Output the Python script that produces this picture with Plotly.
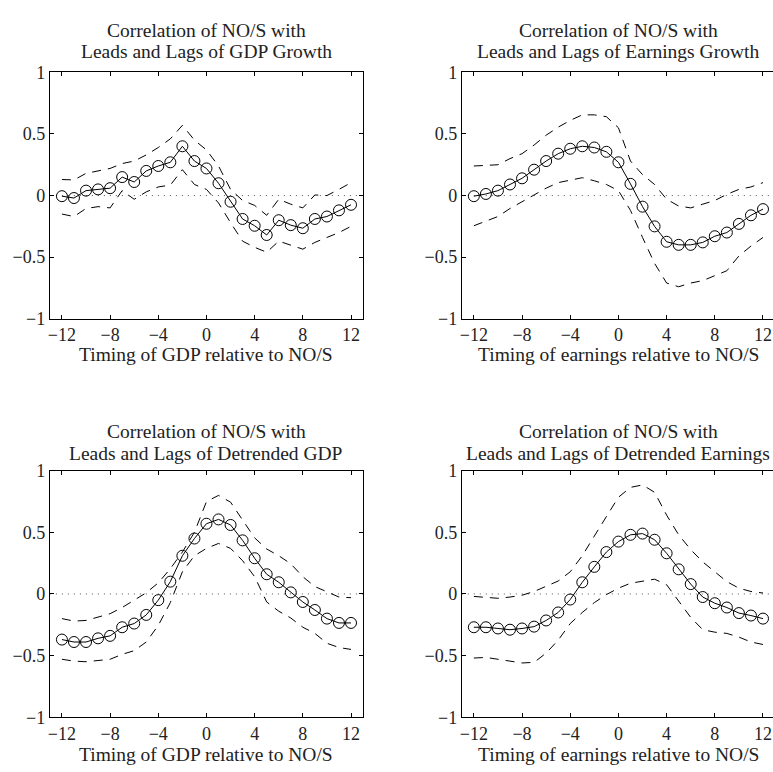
import plotly.graph_objects as go

W, H = 773, 772

lags = list(range(-12, 13))

# Panel 1: GDP growth
gdp_growth = [-0.005, -0.02, 0.04, 0.05, 0.06, 0.15, 0.11, 0.20, 0.24, 0.27, 0.40, 0.28, 0.22,
              0.10, -0.05, -0.19, -0.245, -0.32, -0.20, -0.24, -0.265, -0.19, -0.17, -0.12, -0.075]
gdp_growth_hi = [0.13, 0.127, 0.18, 0.20, 0.22, 0.26, 0.28, 0.33, 0.39, 0.46, 0.57, 0.45, 0.37,
                 0.24, 0.05, -0.04, -0.08, -0.16, -0.03, -0.07, -0.10, 0.005, 0.0, 0.05, 0.105]
gdp_growth_lo = [-0.15, -0.17, -0.105, -0.09, -0.10, 0.04, -0.03, 0.03, 0.07, 0.085, 0.21, 0.09, 0.05,
                 -0.06, -0.22, -0.37, -0.42, -0.46, -0.37, -0.40, -0.435, -0.38, -0.34, -0.30, -0.25]

# Panel 2: Earnings growth
earn_growth = [-0.005, 0.013, 0.04, 0.09, 0.14, 0.21, 0.28, 0.34, 0.38, 0.40, 0.39, 0.355, 0.27,
               0.095, -0.09, -0.25, -0.375, -0.40, -0.40, -0.38, -0.33, -0.30, -0.23, -0.16, -0.11]
earn_growth_hi = [0.24, 0.243, 0.25, 0.30, 0.34, 0.41, 0.49, 0.555, 0.61, 0.655, 0.655, 0.64, 0.55,
                  0.28, 0.17, 0.09, -0.03, -0.085, -0.10, -0.07, -0.04, 0.01, 0.05, 0.07, 0.105]
earn_growth_lo = [-0.245, -0.21, -0.17, -0.105, -0.05, 0.005, 0.06, 0.105, 0.125, 0.145, 0.12, 0.09, 0.04,
                  -0.12, -0.34, -0.55, -0.71, -0.74, -0.71, -0.69, -0.65, -0.61, -0.49, -0.41, -0.34]

# Panel 3: Detrended GDP
gdp_detr = [-0.37, -0.39, -0.39, -0.36, -0.34, -0.27, -0.24, -0.17, -0.05, 0.10, 0.31, 0.45, 0.57,
            0.605, 0.56, 0.435, 0.29, 0.16, 0.095, 0.013, -0.065, -0.13, -0.20, -0.235, -0.235]
gdp_detr_hi = [-0.20, -0.22, -0.215, -0.19, -0.16, -0.11, -0.05, 0.01, 0.09, 0.205, 0.34, 0.50, 0.75,
               0.80, 0.745, 0.60, 0.455, 0.365, 0.31, 0.245, 0.14, 0.06, 0.015, -0.025, -0.03]
gdp_detr_lo = [-0.53, -0.545, -0.55, -0.54, -0.53, -0.49, -0.46, -0.39, -0.255, -0.07, 0.18, 0.31, 0.37,
               0.41, 0.37, 0.27, 0.14, -0.065, -0.14, -0.195, -0.27, -0.32, -0.40, -0.435, -0.45]

# Panel 4: Detrended earnings
earn_detr = [-0.27, -0.27, -0.28, -0.29, -0.28, -0.265, -0.215, -0.15, -0.045, 0.095, 0.22, 0.34, 0.425,
             0.48, 0.49, 0.44, 0.33, 0.20, 0.08, -0.025, -0.075, -0.11, -0.155, -0.175, -0.20]
earn_detr_hi = [-0.02, -0.03, -0.035, -0.025, -0.01, 0.02, 0.06, 0.105, 0.18, 0.31, 0.47, 0.63, 0.785,
                0.865, 0.885, 0.825, 0.64, 0.48, 0.36, 0.26, 0.18, 0.10, 0.047, 0.02, 0.008]
earn_detr_lo = [-0.52, -0.515, -0.53, -0.545, -0.56, -0.555, -0.48, -0.375, -0.24, -0.15, -0.07, -0.005, 0.047,
                0.087, 0.105, 0.12, 0.075, -0.06, -0.19, -0.29, -0.31, -0.32, -0.35, -0.39, -0.41]

titles = [
    ("Correlation of NO/S with", "Leads and Lags of GDP Growth"),
    ("Correlation of NO/S with", "Leads and Lags of Earnings Growth"),
    ("Correlation of NO/S with", "Leads and Lags of Detrended GDP"),
    ("Correlation of NO/S with", "Leads and Lags of Detrended Earnings"),
]
xlabels = [
    "Timing of GDP relative to NO/S",
    "Timing of earnings relative to NO/S",
    "Timing of GDP relative to NO/S",
    "Timing of earnings relative to NO/S",
]
xtick_vals = [-12, -8, -4, 0, 4, 8, 12]
ytick_vals = [-1, -0.5, 0, 0.5, 1]
ytick_text = ["\u22121", "\u22120.5", "0", "0.5", "1"]

panels = [
    (gdp_growth, gdp_growth_hi, gdp_growth_lo),
    (earn_growth, earn_growth_hi, earn_growth_lo),
    (gdp_detr, gdp_detr_hi, gdp_detr_lo),
    (earn_detr, earn_detr_hi, earn_detr_lo),
]

# pixel layout of the axes boxes (left, right, top, bottom)
boxes = [(48, 362, 64, 317), (461, 773, 64, 317), (48, 362, 473, 726), (461, 773, 473, 726)]
xranges = [[-13, 13], [-13, 12.83], [-13, 13], [-13, 12.83]]
title_y = [(21.5, 43), (21.5, 43), (433, 455), (433, 455)]
xlabel_y = [354, 354, 764, 764]

FONT = "Liberation Serif, Times New Roman, serif"
TXT = "#222"

fig = go.Figure()
layout = dict(
    width=W, height=H,
    margin=dict(l=0, r=0, t=0, b=0),
    paper_bgcolor="white", plot_bgcolor="white",
    showlegend=False,
    font=dict(family=FONT, size=18, color=TXT),
)
annotations = []
shapes = []

for i, (mid, hi, lo) in enumerate(panels):
    n = "" if i == 0 else str(i + 1)
    xa, ya = "x" + n, "y" + n
    l, r, t, b = boxes[i]
    layout["xaxis" + n] = dict(
        domain=[l / W, r / W], range=xranges[i], anchor=ya,
        tickmode="array", tickvals=xtick_vals, ticks="inside", ticklen=4,
        tickcolor="black", showline=True, linecolor="black", linewidth=1,
        mirror="ticks", showgrid=False, zeroline=False,
        tickfont=dict(family=FONT, size=18, color=TXT),
    )
    layout["yaxis" + n] = dict(
        domain=[1 - b / H, 1 - t / H], range=[-1, 1], anchor=xa,
        tickmode="array", tickvals=ytick_vals, ticktext=ytick_text,
        ticks="inside", ticklen=4, tickcolor="black",
        showline=True, linecolor="black", linewidth=1,
        mirror="ticks" if i in (0, 2) else False,
        showgrid=False, zeroline=False,
        tickfont=dict(family=FONT, size=18, color=TXT),
    )
    # dotted zero line
    shapes.append(dict(type="line", xref=xa + " domain", yref=ya, x0=0, x1=1, y0=0, y1=0,
                       line=dict(color="#555", width=1, dash="1px,5px"), layer="below"))
    for band in (hi, lo):
        fig.add_trace(go.Scatter(x=lags, y=band, xaxis=xa, yaxis=ya, mode="lines",
                                 line=dict(color="black", width=1, dash="9px,7px"),
                                 hoverinfo="skip"))
    fig.add_trace(go.Scatter(x=lags, y=mid, xaxis=xa, yaxis=ya, mode="lines+markers",
                             line=dict(color="black", width=1),
                             marker=dict(symbol="circle-open", size=11, color="black",
                                         line=dict(width=1, color="black"))))
    cx = ((l + (r if i in (0, 2) else 775)) / 2) / W
    for txt, yy in zip(titles[i], title_y[i]):
        annotations.append(dict(text=txt, x=cx, y=1 - yy / H, xref="paper", yref="paper",
                                xanchor="center", yanchor="middle", showarrow=False,
                                font=dict(family=FONT, size=19.5, color=TXT)))
    annotations.append(dict(text=xlabels[i], x=cx, y=1 - xlabel_y[i] / H, xref="paper", yref="paper",
                            xanchor="center", yanchor="middle", showarrow=False,
                            font=dict(family=FONT, size=19.5, color=TXT)))

layout["annotations"] = annotations
layout["shapes"] = shapes
fig.update_layout(**layout)
fig.write_html("out.html")
